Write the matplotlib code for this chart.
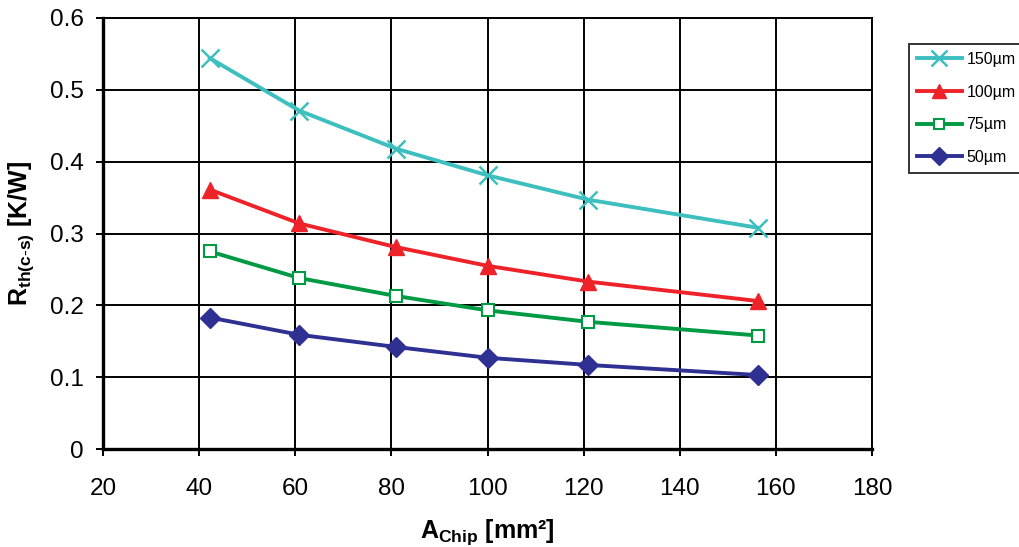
import matplotlib
matplotlib.use("Agg")
import matplotlib.pyplot as plt

plt.rcParams['font.family'] = ['Liberation Sans', 'DejaVu Sans']
plt.rcParams['mathtext.fontset'] = 'custom'
plt.rcParams['mathtext.rm'] = 'Liberation Sans'
plt.rcParams['mathtext.bf'] = 'Liberation Sans:bold'
plt.rcParams['mathtext.it'] = 'Liberation Sans:italic'

area = [42.25, 60.84, 81, 100, 121, 156.25]
r150 = [0.544, 0.471, 0.418, 0.381, 0.347, 0.308]
r100 = [0.361, 0.314, 0.281, 0.255, 0.233, 0.206]
r75 = [0.275, 0.238, 0.213, 0.193, 0.177, 0.158]
r50 = [0.183, 0.159, 0.142, 0.127, 0.117, 0.103]
labels = ["150µm", "100µm", "75µm", "50µm"]

fig = plt.figure(figsize=(10.19, 5.47), dpi=100)
ax = fig.add_axes([103/1019, 1-449/547, (872-103)/1019, (449-18)/547])

ax.plot(area, r150, color='#3DBFBF', lw=2.8, marker='x', ms=13, mew=1.8, label=labels[0])
ax.plot(area, r100, color='#EE2229', lw=2.8, marker='^', ms=11, label=labels[1])
ax.plot(area, r75, color='#009A44', lw=2.8, marker='s', ms=8.5, mfc='white', mew=1.5, label=labels[2])
ax.plot(area, r50, color='#2E3192', lw=2.8, marker='D', ms=10, label=labels[3])

ax.set_xlim(20, 180)
ax.set_ylim(0, 0.6)
ax.set_xticks(range(20, 181, 20))
ax.set_yticks([0, 0.1, 0.2, 0.3, 0.4, 0.5, 0.6])
ax.set_yticklabels(['0', '0.1', '0.2', '0.3', '0.4', '0.5', '0.6'])
ax.grid(True, color='black', lw=1.4)
ax.set_axisbelow(True)
for s in ax.spines.values():
    s.set_linewidth(1.4)
ax.spines['left'].set_linewidth(2.4)
ax.spines['bottom'].set_linewidth(2.4)
ax.tick_params(direction='out', length=5, width=1.4, labelsize=17.5)
ax.tick_params(axis='x', pad=16)
ax.tick_params(axis='y', pad=9)

ax.set_xlabel(r'$\mathbf{A_{Chip}}$ [mm²]', fontsize=18, fontweight='bold', labelpad=12)
ax.set_ylabel(r'$\mathbf{R_{th(c\text{-}s)}}$ [K/W]', fontsize=18, fontweight='bold', labelpad=10)

leg = fig.legend(loc='upper left', bbox_to_anchor=(909/1019, 1-44/547), fontsize=11.5,
                 frameon=True, fancybox=False, edgecolor='black', borderpad=0.5,
                 labelspacing=1.1, handlelength=2.8, handletextpad=0.3, borderaxespad=0,
                 markerscale=0.9)
leg.get_frame().set_linewidth(1.4)

fig.savefig('out.png', dpi=100)
